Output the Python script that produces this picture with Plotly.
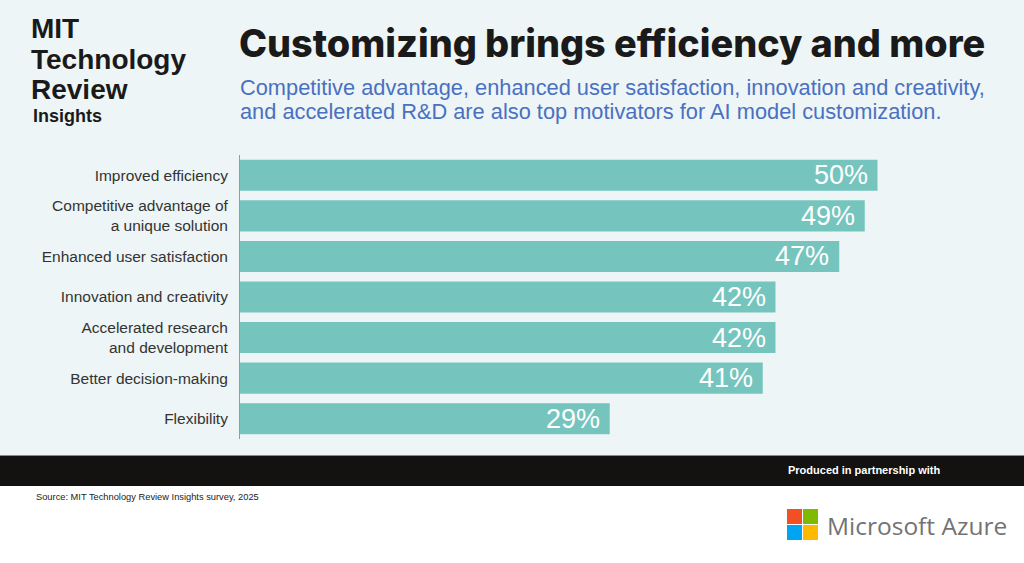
import plotly.graph_objects as go

categories = [
    "Improved efficiency",
    "Competitive advantage of<br>a unique solution",
    "Enhanced user satisfaction",
    "Innovation and creativity",
    "Accelerated research<br>and development",
    "Better decision-making",
    "Flexibility",
]
values = [50, 49, 47, 42, 42, 41, 29]
value_labels = ["50%", "49%", "47%", "42%", "42%", "41%", "29%"]

title_text = "Customizing brings efficiency and more"
subtitle_lines = [
    "Competitive advantage, enhanced user satisfaction, innovation and creativity,",
    "and accelerated R&D are also top motivators for AI model customization.",
]
source_text = "Source: MIT Technology Review Insights survey, 2025"
partner_text = "Produced in partnership with"
partner_name = "Microsoft Azure"
logo_lines = ["MIT", "Technology", "Review"]
logo_sub = "Insights"

W, H = 1024, 563
L, R, T, B = 240, 1000, 155, 439
XMAX = (R - L) / 12.75

def fx(px):
    return (px - L) / (R - L)

def fy(py):
    return (B - py) / (B - T)

BAR = "#75c5be"
BG = "#eef5f6"
FONT = "Liberation Sans, Arial, sans-serif"

fig = go.Figure()
fig.add_trace(go.Bar(
    x=values, y=categories, orientation="h",
    marker=dict(color=BAR, line=dict(width=0)),
    hoverinfo="skip",
))

ann = []
for v, c, t in zip(values, categories, value_labels):
    ann.append(dict(x=v, y=c, xref="x", yref="y", text=t, showarrow=False,
                    xanchor="right", yanchor="middle", xshift=-8, yshift=0,
                    font=dict(family=FONT, size=27, color="white")))

# title
ann.append(dict(x=fx(237), y=fy(43), xref="paper", yref="paper", text=title_text,
                showarrow=False, xanchor="left", yanchor="middle",
                font=dict(family="Inter, Liberation Sans, sans-serif", size=37.8, color="#1a1a1a", weight=800)))
for i, line in enumerate(subtitle_lines):
    ann.append(dict(x=fx(238), y=fy(87 + 24 * i), xref="paper", yref="paper", text=line,
                    showarrow=False, xanchor="left", yanchor="middle",
                    font=dict(family=FONT, size=21.8, color="#4a70c2")))
# logo
logo_y = [29, 59, 89]
for line, yy in zip(logo_lines, logo_y):
    ann.append(dict(x=fx(29), y=fy(yy), xref="paper", yref="paper", text=line,
                    showarrow=False, xanchor="left", yanchor="middle",
                    font=dict(family=FONT, size=28, color="#1a1a1a", weight=700)))
ann.append(dict(x=fx(31), y=fy(116), xref="paper", yref="paper", text=logo_sub,
                showarrow=False, xanchor="left", yanchor="middle",
                font=dict(family=FONT, size=18, color="#1a1a1a", weight=700)))
# footer
ann.append(dict(x=fx(786), y=fy(470), xref="paper", yref="paper", text=partner_text,
                showarrow=False, xanchor="left", yanchor="middle",
                font=dict(family="Liberation Sans Narrow, Liberation Sans, sans-serif", size=11, color="white", weight=700)))
ann.append(dict(x=fx(34), y=fy(497), xref="paper", yref="paper", text=source_text,
                showarrow=False, xanchor="left", yanchor="middle",
                font=dict(family=FONT, size=9.3, color="#222222")))
ann.append(dict(x=fx(825), y=fy(525), xref="paper", yref="paper", text=partner_name,
                showarrow=False, xanchor="left", yanchor="middle",
                font=dict(family="Open Sans, sans-serif", size=24.5, color="#737373")))

shapes = [
    dict(type="rect", xref="paper", yref="paper", x0=fx(0), x1=fx(W), y0=fy(0), y1=fy(455),
         fillcolor=BG, line=dict(width=0), layer="below"),
    dict(type="rect", xref="paper", yref="paper", x0=fx(0), x1=fx(W), y0=fy(455), y1=fy(486),
         fillcolor="#131210", line=dict(width=0), layer="below"),
    dict(type="line", xref="paper", yref="paper", x0=fx(0), x1=fx(W), y0=fy(455.5), y1=fy(455.5),
         line=dict(color="#8a8a8a", width=1), layer="below"),
]
ms = [("#f25022", 787, 509), ("#7fba00", 803, 509), ("#00a4ef", 787, 525), ("#ffb900", 803, 525)]
for col, x0, y0 in ms:
    shapes.append(dict(type="rect", xref="paper", yref="paper", x0=fx(x0), x1=fx(x0 + 15),
                       y0=fy(y0), y1=fy(y0 + 15), fillcolor=col, line=dict(width=0)))

fig.update_layout(
    width=W, height=H,
    margin=dict(l=L, r=W - R, t=T, b=H - B, pad=0),
    paper_bgcolor="white", plot_bgcolor="rgba(0,0,0,0)",
    bargap=0.235, showlegend=False,
    xaxis=dict(range=[0, XMAX], visible=False, fixedrange=True),
    yaxis=dict(categoryorder="array", categoryarray=categories, autorange="reversed",
               showline=True, linecolor="#9a9a9a", linewidth=1, showgrid=False, zeroline=False,
               ticks="", ticklabelstandoff=8,
               tickfont=dict(family=FONT, size=15.5, color="#333333"), fixedrange=True),
    annotations=ann, shapes=shapes,
)

fig.write_html("out.html")
